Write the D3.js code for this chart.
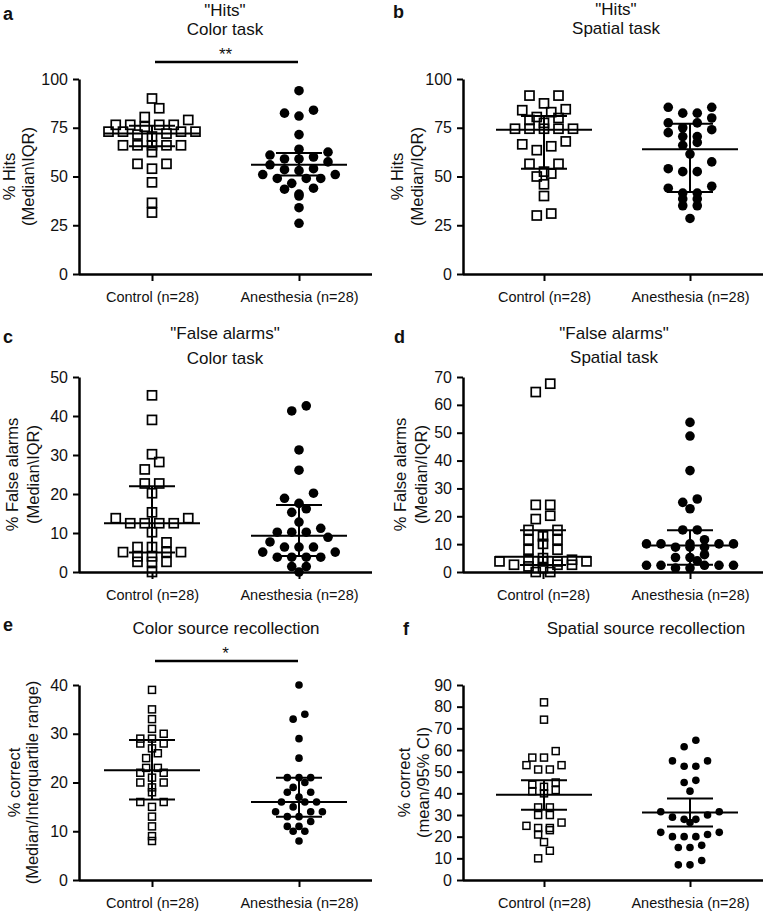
<!DOCTYPE html>
<meta charset="UTF-8">
<head>
  <script src="https://cdnjs.cloudflare.com/ajax/libs/d3/7.8.5/d3.min.js"></script>
</head>
<style>
  body { margin: 0; background: #fff; }
  svg text { font-family: "Liberation Sans", Arial, sans-serif; fill: #111; }
</style>
<body>
<div id="chart"></div>
<script>
var groups = ["Control (n=28)", "Anesthesia (n=28)"];

// a - "Hits" color task (median / IQR)
var hitsColorControl = [90, 85, 80.5, 79, 76.5, 76.5, 76.5, 76.5, 75.5, 73, 73, 73, 73, 72, 71.5, 70.5,
  66, 66, 66, 66, 66, 62.5, 56.5, 56.5, 54, 47, 36.5, 31.5];
var hitsColorAnesthesia = [94, 84, 82.5, 81, 71.5, 64, 62.5, 61, 60, 59, 59, 57.5, 56, 54, 53.5, 53,
  51, 51, 49, 49, 49, 46.5, 44, 43.5, 41, 40, 34, 26];
var hitsColorStats = [[65.5, 72, 76], [50.5, 56, 62]];

// b - "Hits" spatial task
var hitsSpatialControl = [91.5, 91.5, 87.5, 84.5, 84, 83, 80.5, 80, 79, 77.5, 74.5, 74.5, 74.5, 74.5, 74.5,
  68, 66.5, 65.5, 63.5, 56.5, 56.5, 52.5, 51.5, 50, 46, 40, 31, 30];
var hitsSpatialAnesthesia = [85.5, 85.5, 82.5, 82.5, 80, 77.5, 77.5, 75, 74, 72.5, 70.5, 70.5, 67.5, 66,
  61.5, 57.5, 54, 52.5, 52.5, 45, 44, 41.5, 41.5, 38.5, 38.5, 35, 35, 28.5];
var hitsSpatialStats = [[54, 74, 81], [42, 64, 77]];

// c - "False alarms" color task
var faColorControl = [45.3, 39, 30.2, 28.2, 26.3, 22.7, 22.7, 20.2, 15.3, 13.8, 13.8, 12.5, 12.5, 12.5,
  12.5, 10.2, 7.6, 6.4, 6.4, 5.1, 5.1, 5.1, 4, 4, 2.6, 2.6, 2.6, 0];
var faColorAnesthesia = [42.6, 41.3, 31.3, 26.1, 20.2, 18.9, 17.6, 16.2, 15.3, 12.8, 11.2, 10.2, 10.2,
  10.2, 8.9, 7.7, 6.4, 6.4, 6.4, 5.1, 5.1, 3.8, 3.8, 3.8, 3.8, 1.4, 1.4, 0];
var faColorStats = [[5, 12.5, 22], [4.1, 9.3, 17.2]];

// d - "False alarms" spatial task
var faSpatialControl = [67.6, 64.6, 24.1, 24.1, 20.2, 19, 15.1, 15.1, 12.8, 11.6, 11.6, 10.1, 8, 8,
  5, 4.4, 4.4, 3.8, 3.8, 3.8, 3.8, 2.6, 2.6, 2.6, 2, 1.4, 0, 0];
var faSpatialAnesthesia = [53.7, 48.8, 36.4, 26.2, 25, 22.7, 15.1, 15.1, 11.6, 10.1, 10.1, 10.1, 10.1,
  10.1, 8.9, 8.9, 8.9, 6.2, 5.2, 5.2, 4, 2.4, 2.4, 2.4, 2.4, 2.4, 1.4, 1.4];
var faSpatialStats = [[2.5, 5.5, 15], [2.6, 9.5, 15]];

// e - color source recollection
var colorSourceControl = [39, 35, 33, 31, 30, 29, 29, 28, 28, 27, 26, 25, 23, 23, 22, 22, 21, 20, 20,
  19, 18, 16, 16, 15, 13, 11, 9, 8];
var colorSourceAnesthesia = [40, 34, 33, 29, 25, 21, 21, 21, 20, 19, 18, 18, 17, 16, 16, 16, 15, 14, 14,
  14, 13, 13, 12, 11, 11, 10, 10, 8];
var colorSourceStats = [[16.5, 22.5, 28.7], [13, 16, 21]];

// f - spatial source recollection (mean / 95% CI)
var spatialSourceControl = [82, 74, 59.5, 56.5, 56.5, 53, 53, 51, 51, 45, 44, 43, 41.5, 41, 40, 33.5,
  33.5, 30, 30, 26.5, 25, 24, 24, 23, 21, 17.5, 13.5, 10];
var spatialSourceAnesthesia = [64.5, 61.5, 55, 55, 52.5, 52.5, 46, 45, 41, 31.5, 31.5, 30, 29, 28, 28,
  26.5, 22, 22, 21, 20, 20, 20, 16, 15, 15, 9, 7, 7];
var spatialSourceStats = [[32.4, 39.3, 46], [24.7, 31.2, 37.6]];

var panels = [
  { letter: "a", lx: 3, ly: 20, left: 79, top: 79, w: 293, xr: [73, 220], max: 100, ticks: [0, 25, 50, 75, 100],
    title: ['"Hits"', "Color task"], ty: [16, 35], tx: 225, ytitle: ["% Hits", "(Median\\IQR)"], yo: [-64, -45],
    control: hitsColorControl, anes: hitsColorAnesthesia, stats: hitsColorStats, big: true,
    sig: { label: "**", y: 62, ly: 60 } },
  { letter: "b", lx: 393, ly: 18, left: 463, top: 79, w: 300, xr: [81, 227], max: 100, ticks: [0, 25, 50, 75, 100],
    title: ['"Hits"', "Spatial task"], ty: [15, 34], tx: 616, ytitle: ["% Hits", "(Median/IQR)"], yo: [-60, -40],
    control: hitsSpatialControl, anes: hitsSpatialAnesthesia, stats: hitsSpatialStats, big: true },
  { letter: "c", lx: 3, ly: 343, left: 79, top: 377, w: 293, xr: [73, 220], max: 50, ticks: d3.range(0, 51, 10),
    title: ['"False alarms"', "Color task"], ty: [339, 364], tx: 225, ytitle: ["% False alarms", "(Median\\IQR)"], yo: [-61, -40],
    control: faColorControl, anes: faColorAnesthesia, stats: faColorStats, big: true },
  { letter: "d", lx: 394, ly: 343, left: 463, top: 377, w: 300, xr: [80, 227], max: 70, ticks: d3.range(0, 71, 10),
    title: ['"False alarms"', "Spatial task"], ty: [339, 363], tx: 614, ytitle: ["% False alarms", "(Median/IQR)"], yo: [-57, -36],
    control: faSpatialControl, anes: faSpatialAnesthesia, stats: faSpatialStats, big: true },
  { letter: "e", lx: 3, ly: 631, left: 79, top: 685, w: 293, xr: [73, 220], max: 40, ticks: d3.range(0, 41, 10),
    title: ["Color source recollection"], ty: [634], tx: 226, ytitle: ["% correct", "(Median/Interquartile range)"], yo: [-59, -41],
    control: colorSourceControl, anes: colorSourceAnesthesia, stats: colorSourceStats, big: false,
    sig: { label: "*", y: 661, ly: 659 } },
  { letter: "f", lx: 403, ly: 635, left: 463, top: 685, w: 300, xr: [81, 227], max: 90, ticks: d3.range(0, 91, 10),
    title: ["Spatial source recollection"], ty: [634], tx: 646, ytitle: ["% correct", "(mean/95% CI)"], yo: [-53, -34],
    control: spatialSourceControl, anes: spatialSourceAnesthesia, stats: spatialSourceStats, big: false }
];

var width = 766, height = 912, plotH = 195;

var svg = d3.select("#chart").append("svg")
  .attr("width", width)
  .attr("height", height);

// Prism-like column scatter: values binned into rows, spread symmetrically from the centre.
// Rows that get too crowded are split in value order, the extra sub-row shifted half a step.
function swarm(vals, y, bin, step, maxN) {
  var rows = d3.groups(vals.map(function(v) { return { v: v, y: y(v) }; }),
    function(p) { return Math.round(p.y / bin); });
  var pts = [];
  rows.forEach(function(r) {
    var all = r[1].sort(function(a, b) { return a.v - b.v; });
    var chunks = [];
    for (var k = 0; k < all.length; k += maxN) chunks.push(all.slice(k, k + maxN));
    chunks.forEach(function(row, ci) {
      var n = row.length;
      var shift = ci % 2 ? step / 2 : 0;
      var slots = d3.range(n).map(function(i) { return i - (n - 1) / 2; })
        .sort(function(a, b) { return Math.abs(a) - Math.abs(b) || a - b; });
      row.forEach(function(p, i) { p.dx = slots[i] * step + shift; pts.push(p); });
    });
  });
  return pts;
}

panels.forEach(function(p) {
  var g = svg.append("g").attr("transform", "translate(" + p.left + "," + p.top + ")");
  var y = d3.scaleLinear().domain([0, p.max]).range([plotH, 0]);
  var x = d3.scalePoint().domain(groups).range(p.xr);
  var size = p.big ? 9 : 7, r = p.big ? 4.8 : 3.8, step = p.big ? 14.5 : 11.7, bin = p.big ? 11 : 10;

  // axes
  var ya = g.append("g")
    .call(d3.axisLeft(y).tickValues(p.ticks).tickSize(6).tickSizeOuter(0).tickPadding(5));
  ya.select(".domain").attr("stroke-width", 2.5);
  ya.selectAll(".tick line").attr("stroke-width", 2);
  ya.selectAll("text").style("font-size", "16px");

  var xa = g.append("g")
    .attr("transform", "translate(0," + plotH + ")")
    .call(d3.axisBottom(x).tickSize(7).tickPadding(11));
  xa.select(".domain").remove();
  xa.selectAll(".tick line").attr("stroke-width", 2);
  xa.selectAll("text").style("font-size", "14.5px");
  g.append("line")
    .attr("x1", 0).attr("x2", p.w)
    .attr("y1", plotH + 0.5).attr("y2", plotH + 0.5)
    .attr("stroke", "#000").attr("stroke-width", 2.5);

  // points
  var cx0 = x(groups[0]), cx1 = x(groups[1]);
  g.append("g").selectAll("rect")
    .data(swarm(p.control, y, bin, step, 7))
    .enter().append("rect")
    .attr("x", function(d) { return cx0 + d.dx - size / 2; })
    .attr("y", function(d) { return d.y - size / 2; })
    .attr("width", size).attr("height", size)
    .attr("fill", "none").attr("stroke", "#000").attr("stroke-width", p.big ? 1.7 : 1.5);

  g.append("g").selectAll("circle")
    .data(swarm(p.anes, y, bin, step, 7))
    .enter().append("circle")
    .attr("cx", function(d) { return cx1 + d.dx; })
    .attr("cy", function(d) { return d.y; })
    .attr("r", r)
    .attr("fill", "#000");

  // median (or mean) with IQR (or CI)
  p.stats.forEach(function(s, i) {
    var cx = x(groups[i]);
    var sg = g.append("g").attr("stroke", "#000").attr("stroke-width", 2);
    sg.append("line").attr("x1", cx - 48).attr("x2", cx + 48).attr("y1", y(s[1])).attr("y2", y(s[1]));
    sg.append("line").attr("x1", cx - 23).attr("x2", cx + 23).attr("y1", y(s[0])).attr("y2", y(s[0]));
    sg.append("line").attr("x1", cx - 23).attr("x2", cx + 23).attr("y1", y(s[2])).attr("y2", y(s[2]));
    sg.append("line").attr("x1", cx).attr("x2", cx).attr("y1", y(s[0])).attr("y2", y(s[2]));
  });

  // y axis title
  p.ytitle.forEach(function(t, i) {
    g.append("text")
      .attr("transform", "translate(" + p.yo[i] + "," + (plotH / 2) + ") rotate(-90)")
      .attr("text-anchor", "middle")
      .style("font-size", "16.5px")
      .text(t);
  });

  // panel title
  p.title.forEach(function(t, i) {
    svg.append("text")
      .attr("x", p.tx).attr("y", p.ty[i])
      .attr("text-anchor", "middle")
      .style("font-size", "17px")
      .text(t);
  });

  svg.append("text")
    .attr("x", p.lx).attr("y", p.ly)
    .style("font-size", "18px").style("font-weight", "bold")
    .text(p.letter);

  if (p.sig) {
    svg.append("line")
      .attr("x1", p.left + cx0 + 3).attr("x2", p.left + cx1 - 1)
      .attr("y1", p.sig.y).attr("y2", p.sig.y)
      .attr("stroke", "#000").attr("stroke-width", 2.5);
    svg.append("text")
      .attr("x", p.left + (cx0 + cx1) / 2).attr("y", p.sig.ly)
      .attr("text-anchor", "middle")
      .style("font-size", "17px")
      .text(p.sig.label);
  }
});
</script>
</body>
